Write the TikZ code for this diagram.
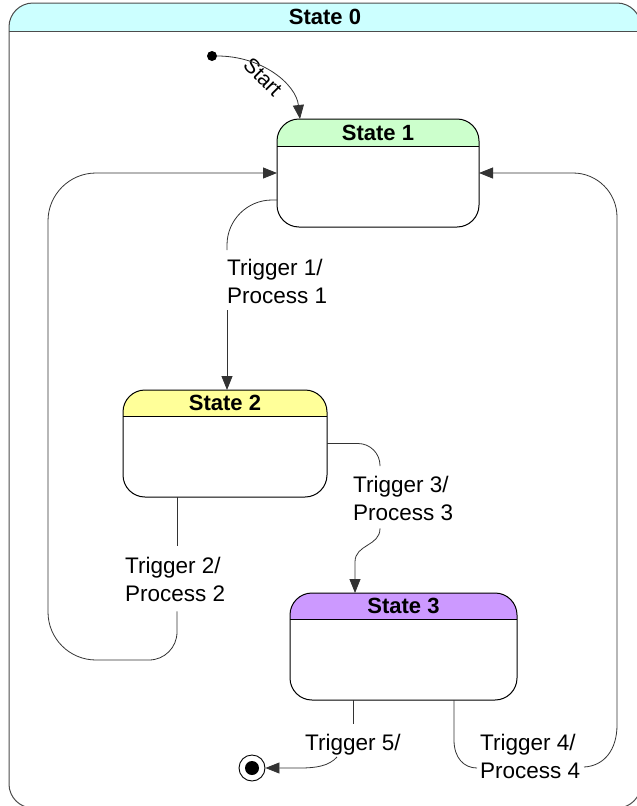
\documentclass[tikz,border=0pt]{standalone}
\usepackage{fontspec}
\setmainfont{Liberation Sans}
\usetikzlibrary{arrows.meta}
\definecolor{hdrcyan}{RGB}{204,255,255}
\definecolor{hdrgreen}{RGB}{204,255,204}
\definecolor{hdryellow}{RGB}{255,255,153}
\definecolor{hdrpurple}{RGB}{204,153,255}
\begin{document}
\begin{tikzpicture}[x=1pt,y=-1pt,
  conn/.style={draw=black!80, line width=0.8pt},
  arr/.style={conn, -{Triangle[length=14pt,width=11pt]}},
  lbl/.style={font=\fontsize{22.5}{27.5}\selectfont, align=left, inner sep=0pt, anchor=north west},
  stitle/.style={font=\bfseries\fontsize{22}{26}\selectfont, inner sep=0pt},
  statebox/.style 2 args={draw=black, line width=1pt, rounded corners=22pt, inner sep=0pt, outer sep=0pt,
    path picture={\fill[#1, sharp corners] (path picture bounding box.north west) rectangle ([yshift=-#2]path picture bounding box.north east);
      \draw[line width=1pt, sharp corners] ([yshift=-#2]path picture bounding box.north west) -- ([yshift=-#2]path picture bounding box.north east);}}
]
\useasboundingbox (0,0) rectangle (637,806);
\clip (0,0) rectangle (637,806);

% outer state
\node[statebox={hdrcyan}{28pt}, draw=black!70, rounded corners=24pt, minimum width=632pt, minimum height=805pt] (s0) at (325,405.5) {};
\node[stitle] (s0t) at ([yshift=-14pt]s0.north) {State 0};

% states
\node[statebox={hdrgreen}{27pt}, minimum width=202pt, minimum height=108pt] (s1) at (378,173) {};
\node[stitle] (s1t) at ([yshift=-13.5pt]s1.north) {State 1};
\node[statebox={hdryellow}{26pt}, minimum width=204pt, minimum height=107pt] (s2) at (225,443.5) {};
\node[stitle] (s2t) at ([yshift=-13pt]s2.north) {State 2};
\node[statebox={hdrpurple}{26pt}, minimum width=227pt, minimum height=107pt] (s3) at (403.5,646.5) {};
\node[stitle] (s3t) at ([yshift=-13pt]s3.north) {State 3};

% initial and final
\node[circle, fill=black, inner sep=0pt, minimum size=10pt] (init) at (212,56) {};
\node[circle, draw=black, line width=0.9pt, inner sep=0pt, minimum size=26pt] (fin) at (252,768) {};
\node[circle, fill=black, inner sep=0pt, minimum size=14pt] (finin) at (fin.center) {};

% labels
\node[font=\fontsize{21}{24}\selectfont, inner sep=0pt, rotate=-45] (startl) at (263,77) {Start};
\node[lbl] (t1) at (227,259) {Trigger 1/\\Process 1};
\node[lbl] (t2) at (125,557) {Trigger 2/\\Process 2};
\node[lbl] (t3) at (353,476) {Trigger 3/\\Process 3};
\node[lbl] (t4) at (480,734) {Trigger 4/\\Process 4};
\node[lbl] (t5) at (305,734) {Trigger 5/};

% start
\draw[arr] (init.east) .. controls (262,56) and (296,84) .. ([xshift=23pt]s1.north west);

% trigger 1
\draw[conn, rounded corners=45pt] ([yshift=-27pt]s1.west) -| ([yshift=9pt]t1.north west);
\draw[arr] ([yshift=-7pt]t1.south west) -- (t1.south west |- s2.north);

% trigger 2
\coordinate (c2x) at (177,0);
\coordinate (c2a) at (177,632);
\coordinate (c2b) at (96,660);
\coordinate (c2c) at (48,221);
\draw[conn] (c2x |- s2.south) -- ([yshift=11pt]t2.north -| c2x);
\draw[arr] ([yshift=-10pt]t2.south -| c2x) -- (c2a) arc[start angle=0, end angle=-90, radius=28pt]
  -- (c2b) arc[start angle=-90, end angle=-180, radius=48pt]
  -- (c2c) arc[start angle=180, end angle=90, radius=48pt] -- (s1.west);

% trigger 3
\draw[conn, rounded corners=22pt] (s2.east) -| ([xshift=27pt,yshift=10pt]t3.north west);
\coordinate (c3a) at ([xshift=27pt,yshift=-8pt]t3.south west);
\coordinate (c3b) at (355,562);
\draw[arr] (c3a) .. controls +(0,18) and +(0,-18) .. (c3b) -- (c3b |- s3.north);

% trigger 5
\coordinate (c5a) at (337,757);
\coordinate (c5b) at (300,768);
\draw[conn] (t5.north |- s3.south) -- ([yshift=10pt]t5.north);
\draw[arr] (c5a) .. controls (329,766) and (316,768) .. (c5b) -- (fin.east);

% trigger 4
\coordinate (c4a) at (454,740);
\coordinate (c4b) at (477,768);
\coordinate (c4c) at (584,767);
\coordinate (c4d) at (617,725);
\coordinate (c4e) at (617,173);
\draw[conn] (c4a |- s3.south) -- (c4a) .. controls (454,758) and (464,768) .. (c4b);
\draw[arr] (c4c) .. controls (604,766) and (617,750) .. (c4d) [rounded corners=44pt] -- (c4e) -- (s1.east);
\end{tikzpicture}
\end{document}
